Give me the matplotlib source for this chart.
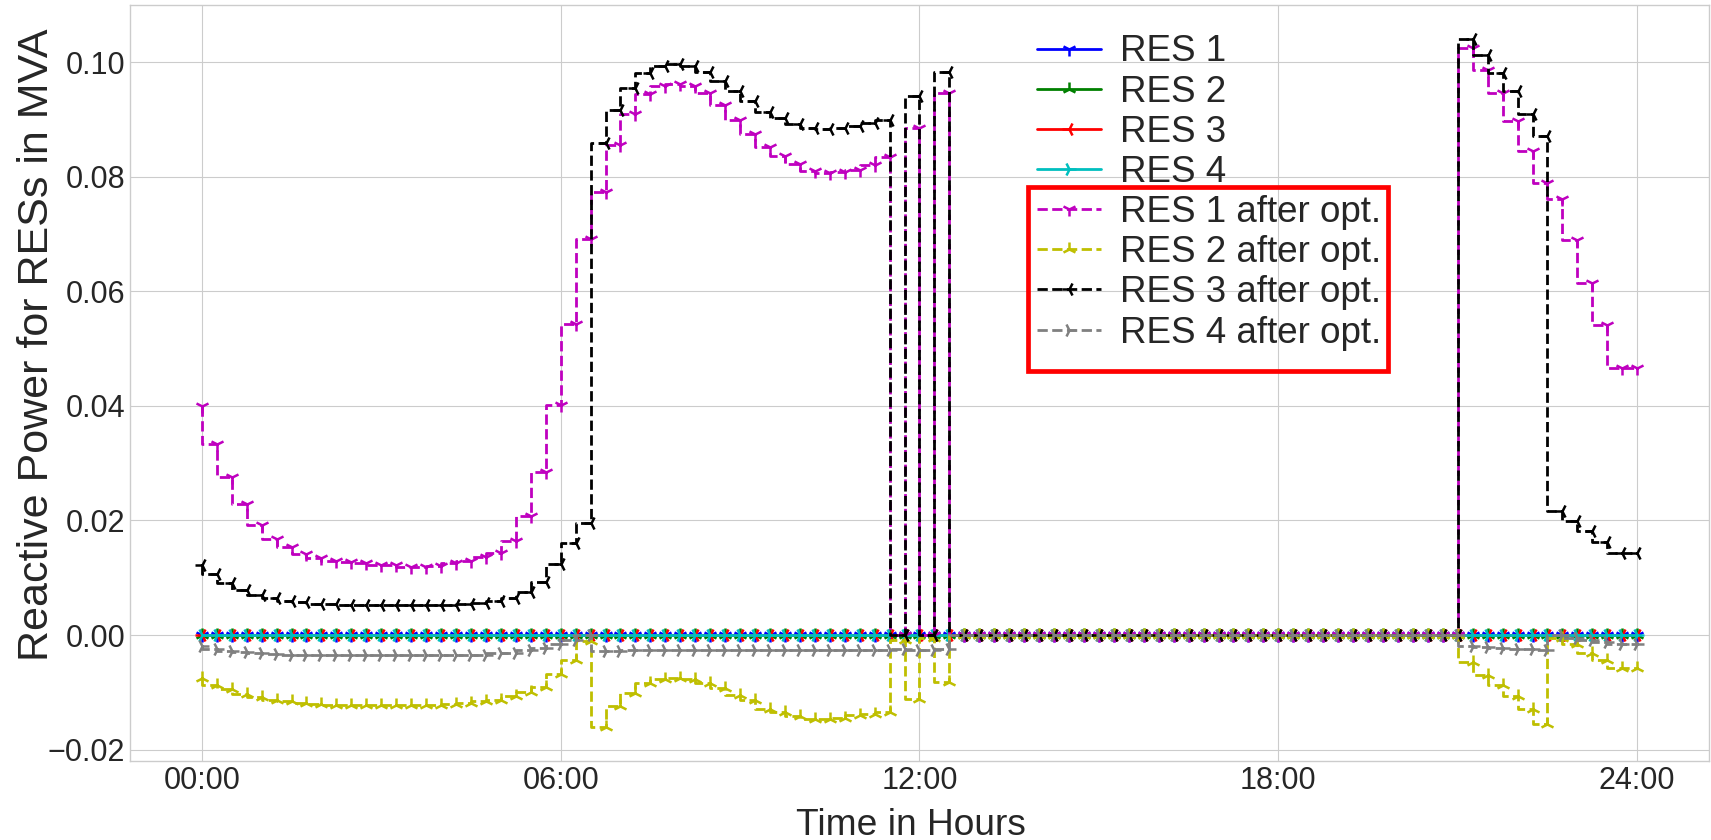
import numpy as np
import matplotlib
matplotlib.use('Agg')
import matplotlib.pyplot as plt
from matplotlib.patches import Rectangle
from matplotlib.ticker import FuncFormatter

plt.style.use('seaborn-v0_8-whitegrid')
plt.rcParams['font.family'] = ['Liberation Sans', 'DejaVu Sans']

# 15 minute steps over one day (97 points)
steps = np.arange(97)
tick_pos = [0, 24, 48, 72, 96]
tick_lab = ['00:00', '06:00', '12:00', '18:00', '24:00']

# reactive power before optimisation (all zero)
res1 = [0.0] * 97
res2 = [0.0] * 97
res3 = [0.0] * 97
res4 = [0.0] * 97

# reactive power after optimisation
res1_opt = [0.0400, 0.0333, 0.0276, 0.0229, 0.0193, 0.0168, 0.0153, 0.0142, 0.0135, 0.0130,
            0.0128, 0.0126, 0.0123, 0.0122, 0.0119, 0.0119, 0.0121, 0.0125, 0.0130, 0.0136,
            0.0144, 0.0165, 0.0207, 0.0285, 0.0402, 0.0543, 0.0691, 0.0773, 0.0855, 0.0909,
            0.0944, 0.0958, 0.0962, 0.0958, 0.0947, 0.0926, 0.0900, 0.0875, 0.0853, 0.0836,
            0.0822, 0.0810, 0.0806, 0.0808, 0.0812, 0.0821, 0.0834, 0.0, 0.0885, 0.0,
            0.0947] + [0.0] * 34 + [
            0.1025, 0.0987, 0.0947, 0.0898, 0.0845, 0.0789, 0.0762, 0.0689, 0.0615, 0.0542,
            0.0467, 0.0467]

res2_opt = [-0.0075, -0.0087, -0.0095, -0.0103, -0.0108, -0.0113, -0.0116, -0.0119, -0.0120, -0.0122,
            -0.0123, -0.0123, -0.0123, -0.0123, -0.0123, -0.0123, -0.0122, -0.0121, -0.0119, -0.0116,
            -0.0113, -0.0107, -0.0099, -0.0090, -0.0068, -0.0043, -0.0010, -0.0160, -0.0124, -0.0102,
            -0.0084, -0.0077, -0.0075, -0.0077, -0.0084, -0.0093, -0.0105, -0.0114, -0.0129, -0.0134,
            -0.0142, -0.0146, -0.0146, -0.0144, -0.0140, -0.0137, -0.0134, -0.0008, -0.0111, -0.0005,
            -0.0082] + [0.0] * 34 + [
            -0.0047, -0.0070, -0.0088, -0.0107, -0.0129, -0.0155, -0.0005, -0.0015, -0.0032, -0.0044,
            -0.0058, -0.0058]

res3_opt = [0.0122, 0.0107, 0.0091, 0.0079, 0.0070, 0.0064, 0.0060, 0.0057, 0.0055, 0.0054,
            0.0053, 0.0053, 0.0052, 0.0052, 0.0052, 0.0052, 0.0053, 0.0053, 0.0055, 0.0056,
            0.0059, 0.0065, 0.0075, 0.0093, 0.0124, 0.0160, 0.0196, 0.0859, 0.0917, 0.0955,
            0.0982, 0.0993, 0.0997, 0.0993, 0.0983, 0.0968, 0.0950, 0.0932, 0.0914, 0.0903,
            0.0892, 0.0886, 0.0884, 0.0885, 0.0888, 0.0894, 0.0900, 0.0, 0.0941, 0.0,
            0.0983] + [0.0] * 34 + [
            0.1040, 0.1013, 0.0982, 0.0950, 0.0910, 0.0871, 0.0216, 0.0199, 0.0181, 0.0162,
            0.0144, 0.0143]

res4_opt = [-0.0020, -0.0025, -0.0027, -0.0030, -0.0032, -0.0033, -0.0034, -0.0034, -0.0035, -0.0035,
            -0.0035, -0.0035, -0.0035, -0.0035, -0.0035, -0.0035, -0.0035, -0.0035, -0.0034, -0.0034,
            -0.0032, -0.0031, -0.0026, -0.0022, -0.0015, -0.0008, 0.0000, -0.0027, -0.0027, -0.0026,
            -0.0026, -0.0026, -0.0026, -0.0026, -0.0026, -0.0026, -0.0026, -0.0026, -0.0026, -0.0026,
            -0.0026, -0.0026, -0.0026, -0.0026, -0.0026, -0.0026, -0.0026, -0.0025, -0.0026, -0.0026,
            -0.0025] + [0.0] * 34 + [
            -0.0020, -0.0021, -0.0023, -0.0024, -0.0025, -0.0026, 0.0000, -0.0006, -0.0009, -0.0012,
            -0.0015, -0.0015]

fig = plt.figure(figsize=(17.11, 8.4), dpi=100)
ax = fig.add_axes([0.076, 0.094, 0.9228, 0.9])

lw = 2.0
ms = 10
mew = 1.8
ax.plot(steps, res1, color='b', drawstyle='steps', marker='1', lw=lw, ms=ms, mew=mew, label='RES 1')
ax.plot(steps, res2, color='g', drawstyle='steps', marker='2', lw=lw, ms=ms, mew=mew, label='RES 2')
ax.plot(steps, res3, color='r', drawstyle='steps', marker='3', lw=lw, ms=ms, mew=mew, label='RES 3')
ax.plot(steps, res4, color='c', drawstyle='steps', marker='4', lw=lw, ms=ms, mew=mew, label='RES 4')
ax.plot(steps, res1_opt, color='m', linestyle='--', drawstyle='steps', marker='1', lw=lw, ms=ms, mew=mew, label='RES 1 after opt.')
ax.plot(steps, res2_opt, color='y', linestyle='--', drawstyle='steps', marker='2', lw=lw, ms=ms, mew=mew, label='RES 2 after opt.')
ax.plot(steps, res3_opt, color='k', linestyle='--', drawstyle='steps', marker='3', lw=lw, ms=ms, mew=mew, label='RES 3 after opt.')
ax.plot(steps, res4_opt, color='grey', linestyle='--', drawstyle='steps', marker='4', lw=lw, ms=ms, mew=mew, label='RES 4 after opt.')

ax.set_xticks(tick_pos)
ax.set_xticklabels(tick_lab)
ax.tick_params(axis='both', labelsize=22)
ax.set_yticks([-0.02, 0.0, 0.02, 0.04, 0.06, 0.08, 0.10])
ax.yaxis.set_major_formatter(FuncFormatter(lambda v, p: ('%.2f' % v).replace('-', '\u2212')))
ax.set_xlabel('Time in Hours', fontsize=26.7, labelpad=7)
ax.set_ylabel('Reactive Power for RESs in MVA', fontsize=31)
ax.yaxis.set_label_coords(-0.046, 0.55)
ax.xaxis.set_label_coords(0.4946, -0.062)

leg = ax.legend(loc='upper left', bbox_to_anchor=(0.606, 0.959), bbox_transform=fig.transFigure,
                fontsize=26.5, frameon=False, borderpad=0, borderaxespad=0,
                handlelength=1.75, handletextpad=0.5, labelspacing=0.14)

# red box around the optimised entries
fig.patches.append(Rectangle((0.6011, 0.5583), 0.2101, 0.2185, transform=fig.transFigure,
                             fill=False, edgecolor='red', linewidth=3.4, zorder=10))

fig.savefig('out.png', dpi=100)
